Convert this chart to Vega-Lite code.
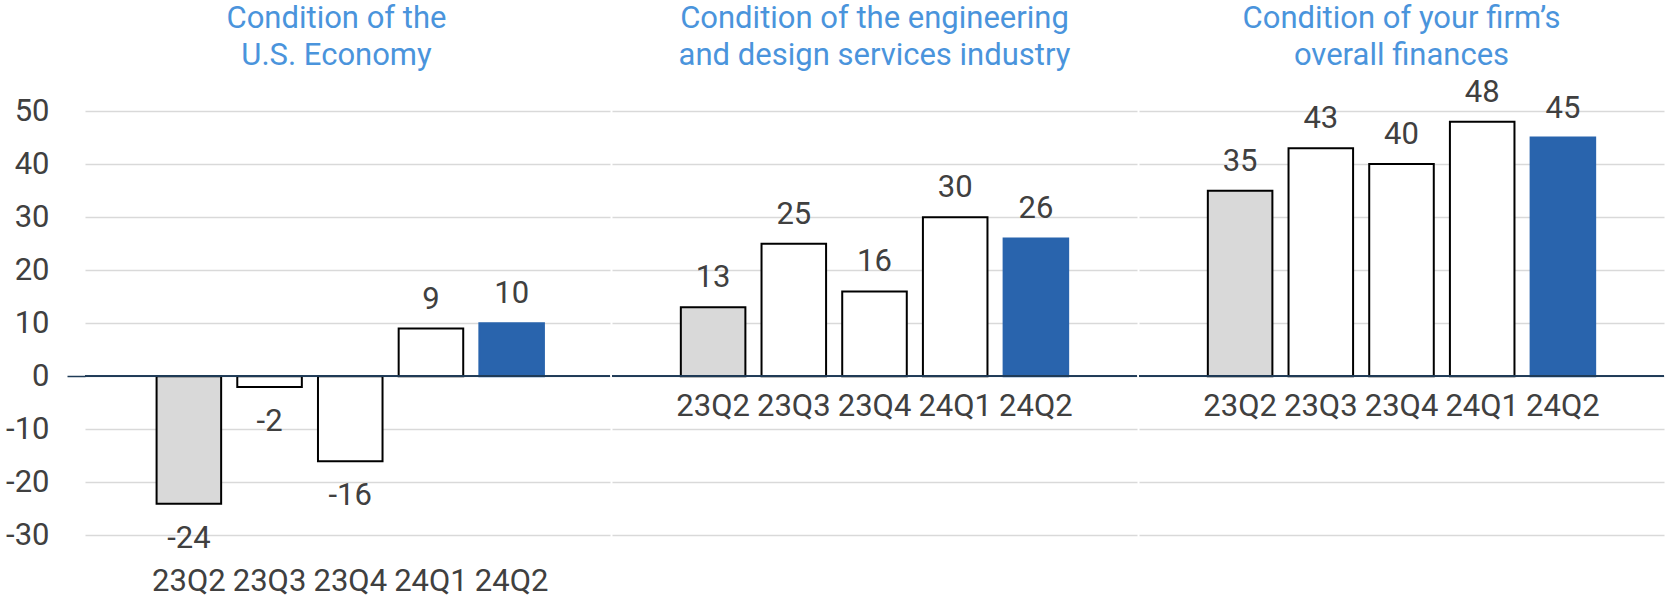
{
  "$schema": "https://vega.github.io/schema/vega-lite/v6.json",
  "background": "white",
  "padding": {"left": 5, "top": 3, "right": 0, "bottom": 0},
  "spacing": 0,
  "config": {
    "view": {"stroke": null, "strokeWidth": 0},
    "axis": {"domain": false},
    "font": "Roboto",
    "title": {"font": "Roboto", "fontSize": 31, "fontWeight": "normal", "color": "#4A94DC", "lineHeight": 37, "anchor": "middle", "offset": -14},
    "concat": {"spacing": 0}
  },
  "data": {
    "values": [
      {"group": "econ", "quarter": "23Q2", "value": -24},
      {"group": "econ", "quarter": "23Q3", "value": -2},
      {"group": "econ", "quarter": "23Q4", "value": -16},
      {"group": "econ", "quarter": "24Q1", "value": 9},
      {"group": "econ", "quarter": "24Q2", "value": 10},
      {"group": "industry", "quarter": "23Q2", "value": 13},
      {"group": "industry", "quarter": "23Q3", "value": 25},
      {"group": "industry", "quarter": "23Q4", "value": 16},
      {"group": "industry", "quarter": "24Q1", "value": 30},
      {"group": "industry", "quarter": "24Q2", "value": 26},
      {"group": "firm", "quarter": "23Q2", "value": 35},
      {"group": "firm", "quarter": "23Q3", "value": 43},
      {"group": "firm", "quarter": "23Q4", "value": 40},
      {"group": "firm", "quarter": "24Q1", "value": 48},
      {"group": "firm", "quarter": "24Q2", "value": 45}
    ]
  },
  "hconcat": [
    {
      "width": 525, "height": 504,
      "title": {"text": ["Condition of the", "U.S. Economy"], "dx": -11},
      "transform": [{"filter": "datum.group === 'econ'"}],
      "layer": [
        {
          "mark": {"type": "bar", "strokeWidth": 2},
          "encoding": {
            "x": {"field": "quarter", "type": "nominal", "sort": null, "scale": {"paddingInner": 0.2, "paddingOuter": 0.853, "align": 0.52}, "axis": {"title": null, "labelAngle": 0, "ticks": false, "domain": false, "labelPadding": 4, "labelFontSize": 31, "labelColor": "#404040", "labelFont": "Roboto"}},
            "y": {"field": "value", "type": "quantitative", "scale": {"domain": [-35, 60], "nice": false, "zero": false}, "axis": {"title": null, "values": [-30, -20, -10, 0, 10, 20, 30, 40, 50], "labelExpr": "datum.value + ''", "grid": true, "gridColor": "#D9D9D9", "gridWidth": 1.5, "domain": false, "tickSize": 18, "tickWidth": 1.5, "tickColor": {"condition": {"test": "datum.value === 0", "value": "#1F3B57"}, "value": "transparent"}, "labelPadding": 18, "labelFontSize": 31, "labelColor": "#404040", "labelFont": "Roboto"}},
            "fill": {"condition": [{"test": "datum.quarter === '23Q2'", "value": "#D9D9D9"}, {"test": "datum.quarter === '24Q2'", "value": "#2964AD"}], "value": "#FFFFFF"},
            "stroke": {"condition": {"test": "datum.quarter === '24Q2'", "value": "#2964AD"}, "value": "#000000"}
          }
        },
        {
          "mark": {"type": "rule", "color": "#1F3B57", "strokeWidth": 1.5},
          "encoding": {
            "y": {"datum": 0, "type": "quantitative", "scale": {"domain": [-35, 60], "nice": false, "zero": false}, "axis": {"title": null, "values": [-30, -20, -10, 0, 10, 20, 30, 40, 50], "labelExpr": "datum.value + ''", "grid": true, "gridColor": "#D9D9D9", "gridWidth": 1.5, "domain": false, "tickSize": 18, "tickWidth": 1.5, "tickColor": {"condition": {"test": "datum.value === 0", "value": "#1F3B57"}, "value": "transparent"}, "labelPadding": 18, "labelFontSize": 31, "labelColor": "#404040", "labelFont": "Roboto"}}
          }
        },
        {
          "transform": [{"filter": "datum.value >= 0"}],
          "mark": {"type": "text", "baseline": "alphabetic", "dy": -20, "fontSize": 31, "color": "#404040", "font": "Roboto"},
          "encoding": {
            "x": {"field": "quarter", "type": "nominal", "sort": null, "scale": {"paddingInner": 0.2, "paddingOuter": 0.853, "align": 0.52}, "axis": {"title": null, "labelAngle": 0, "ticks": false, "domain": false, "labelPadding": 4, "labelFontSize": 31, "labelColor": "#404040", "labelFont": "Roboto"}},
            "y": {"field": "value", "type": "quantitative", "scale": {"domain": [-35, 60], "nice": false, "zero": false}, "axis": {"title": null, "values": [-30, -20, -10, 0, 10, 20, 30, 40, 50], "labelExpr": "datum.value + ''", "grid": true, "gridColor": "#D9D9D9", "gridWidth": 1.5, "domain": false, "tickSize": 18, "tickWidth": 1.5, "tickColor": {"condition": {"test": "datum.value === 0", "value": "#1F3B57"}, "value": "transparent"}, "labelPadding": 18, "labelFontSize": 31, "labelColor": "#404040", "labelFont": "Roboto"}},
            "text": {"field": "value", "type": "nominal"}
          }
        },
        {
          "transform": [{"filter": "datum.value < 0"}],
          "mark": {"type": "text", "baseline": "alphabetic", "dy": 44, "fontSize": 31, "color": "#404040", "font": "Roboto"},
          "encoding": {
            "x": {"field": "quarter", "type": "nominal", "sort": null, "scale": {"paddingInner": 0.2, "paddingOuter": 0.853, "align": 0.52}, "axis": {"title": null, "labelAngle": 0, "ticks": false, "domain": false, "labelPadding": 4, "labelFontSize": 31, "labelColor": "#404040", "labelFont": "Roboto"}},
            "y": {"field": "value", "type": "quantitative", "scale": {"domain": [-35, 60], "nice": false, "zero": false}, "axis": {"title": null, "values": [-30, -20, -10, 0, 10, 20, 30, 40, 50], "labelExpr": "datum.value + ''", "grid": true, "gridColor": "#D9D9D9", "gridWidth": 1.5, "domain": false, "tickSize": 18, "tickWidth": 1.5, "tickColor": {"condition": {"test": "datum.value === 0", "value": "#1F3B57"}, "value": "transparent"}, "labelPadding": 18, "labelFontSize": 31, "labelColor": "#404040", "labelFont": "Roboto"}},
            "text": {"field": "value", "type": "nominal"}
          }
        }
      ]
    },
    {
      "width": 525, "height": 504,
      "title": {"text": ["Condition of the engineering", "and design services industry"]},
      "transform": [{"filter": "datum.group === 'industry'"}],
      "layer": [
        {
          "mark": {"type": "bar", "strokeWidth": 2},
          "encoding": {
            "x": {"field": "quarter", "type": "nominal", "sort": null, "scale": {"paddingInner": 0.2, "paddingOuter": 0.853}, "axis": null},
            "y": {"field": "value", "type": "quantitative", "scale": {"domain": [-35, 60], "nice": false, "zero": false}, "axis": {"title": null, "values": [-30, -20, -10, 0, 10, 20, 30, 40, 50], "grid": true, "gridColor": "#D9D9D9", "gridWidth": 1.5, "domain": false, "ticks": false, "labels": false}},
            "fill": {"condition": [{"test": "datum.quarter === '23Q2'", "value": "#D9D9D9"}, {"test": "datum.quarter === '24Q2'", "value": "#2964AD"}], "value": "#FFFFFF"},
            "stroke": {"condition": {"test": "datum.quarter === '24Q2'", "value": "#2964AD"}, "value": "#000000"}
          }
        },
        {
          "mark": {"type": "rule", "color": "#1F3B57", "strokeWidth": 1.5},
          "encoding": {
            "y": {"datum": 0, "type": "quantitative", "scale": {"domain": [-35, 60], "nice": false, "zero": false}, "axis": {"title": null, "values": [-30, -20, -10, 0, 10, 20, 30, 40, 50], "grid": true, "gridColor": "#D9D9D9", "gridWidth": 1.5, "domain": false, "ticks": false, "labels": false}}
          }
        },
        {
          "mark": {"type": "text", "baseline": "alphabetic", "dy": -20, "fontSize": 31, "color": "#404040", "font": "Roboto"},
          "encoding": {
            "x": {"field": "quarter", "type": "nominal", "sort": null, "scale": {"paddingInner": 0.2, "paddingOuter": 0.853}, "axis": null},
            "y": {"field": "value", "type": "quantitative", "scale": {"domain": [-35, 60], "nice": false, "zero": false}, "axis": {"title": null, "values": [-30, -20, -10, 0, 10, 20, 30, 40, 50], "grid": true, "gridColor": "#D9D9D9", "gridWidth": 1.5, "domain": false, "ticks": false, "labels": false}},
            "text": {"field": "value", "type": "nominal"}
          }
        },
        {
          "mark": {"type": "text", "baseline": "alphabetic", "dy": 40, "fontSize": 31, "color": "#404040", "font": "Roboto"},
          "encoding": {
            "x": {"field": "quarter", "type": "nominal", "sort": null, "scale": {"paddingInner": 0.2, "paddingOuter": 0.853}, "axis": null},
            "y": {"datum": 0, "type": "quantitative", "scale": {"domain": [-35, 60], "nice": false, "zero": false}, "axis": {"title": null, "values": [-30, -20, -10, 0, 10, 20, 30, 40, 50], "grid": true, "gridColor": "#D9D9D9", "gridWidth": 1.5, "domain": false, "ticks": false, "labels": false}},
            "text": {"field": "quarter", "type": "nominal"}
          }
        }
      ]
    },
    {
      "width": 525, "height": 504,
      "title": {"text": ["Condition of your firm’s", "overall finances"]},
      "transform": [{"filter": "datum.group === 'firm'"}],
      "layer": [
        {
          "mark": {"type": "bar", "strokeWidth": 2},
          "encoding": {
            "x": {"field": "quarter", "type": "nominal", "sort": null, "scale": {"paddingInner": 0.2, "paddingOuter": 0.853}, "axis": null},
            "y": {"field": "value", "type": "quantitative", "scale": {"domain": [-35, 60], "nice": false, "zero": false}, "axis": {"title": null, "values": [-30, -20, -10, 0, 10, 20, 30, 40, 50], "grid": true, "gridColor": "#D9D9D9", "gridWidth": 1.5, "domain": false, "ticks": false, "labels": false}},
            "fill": {"condition": [{"test": "datum.quarter === '23Q2'", "value": "#D9D9D9"}, {"test": "datum.quarter === '24Q2'", "value": "#2964AD"}], "value": "#FFFFFF"},
            "stroke": {"condition": {"test": "datum.quarter === '24Q2'", "value": "#2964AD"}, "value": "#000000"}
          }
        },
        {
          "mark": {"type": "rule", "color": "#1F3B57", "strokeWidth": 1.5},
          "encoding": {
            "y": {"datum": 0, "type": "quantitative", "scale": {"domain": [-35, 60], "nice": false, "zero": false}, "axis": {"title": null, "values": [-30, -20, -10, 0, 10, 20, 30, 40, 50], "grid": true, "gridColor": "#D9D9D9", "gridWidth": 1.5, "domain": false, "ticks": false, "labels": false}}
          }
        },
        {
          "mark": {"type": "text", "baseline": "alphabetic", "dy": -20, "fontSize": 31, "color": "#404040", "font": "Roboto"},
          "encoding": {
            "x": {"field": "quarter", "type": "nominal", "sort": null, "scale": {"paddingInner": 0.2, "paddingOuter": 0.853}, "axis": null},
            "y": {"field": "value", "type": "quantitative", "scale": {"domain": [-35, 60], "nice": false, "zero": false}, "axis": {"title": null, "values": [-30, -20, -10, 0, 10, 20, 30, 40, 50], "grid": true, "gridColor": "#D9D9D9", "gridWidth": 1.5, "domain": false, "ticks": false, "labels": false}},
            "text": {"field": "value", "type": "nominal"}
          }
        },
        {
          "mark": {"type": "text", "baseline": "alphabetic", "dy": 40, "fontSize": 31, "color": "#404040", "font": "Roboto"},
          "encoding": {
            "x": {"field": "quarter", "type": "nominal", "sort": null, "scale": {"paddingInner": 0.2, "paddingOuter": 0.853}, "axis": null},
            "y": {"datum": 0, "type": "quantitative", "scale": {"domain": [-35, 60], "nice": false, "zero": false}, "axis": {"title": null, "values": [-30, -20, -10, 0, 10, 20, 30, 40, 50], "grid": true, "gridColor": "#D9D9D9", "gridWidth": 1.5, "domain": false, "ticks": false, "labels": false}},
            "text": {"field": "quarter", "type": "nominal"}
          }
        }
      ]
    }
  ]
}
